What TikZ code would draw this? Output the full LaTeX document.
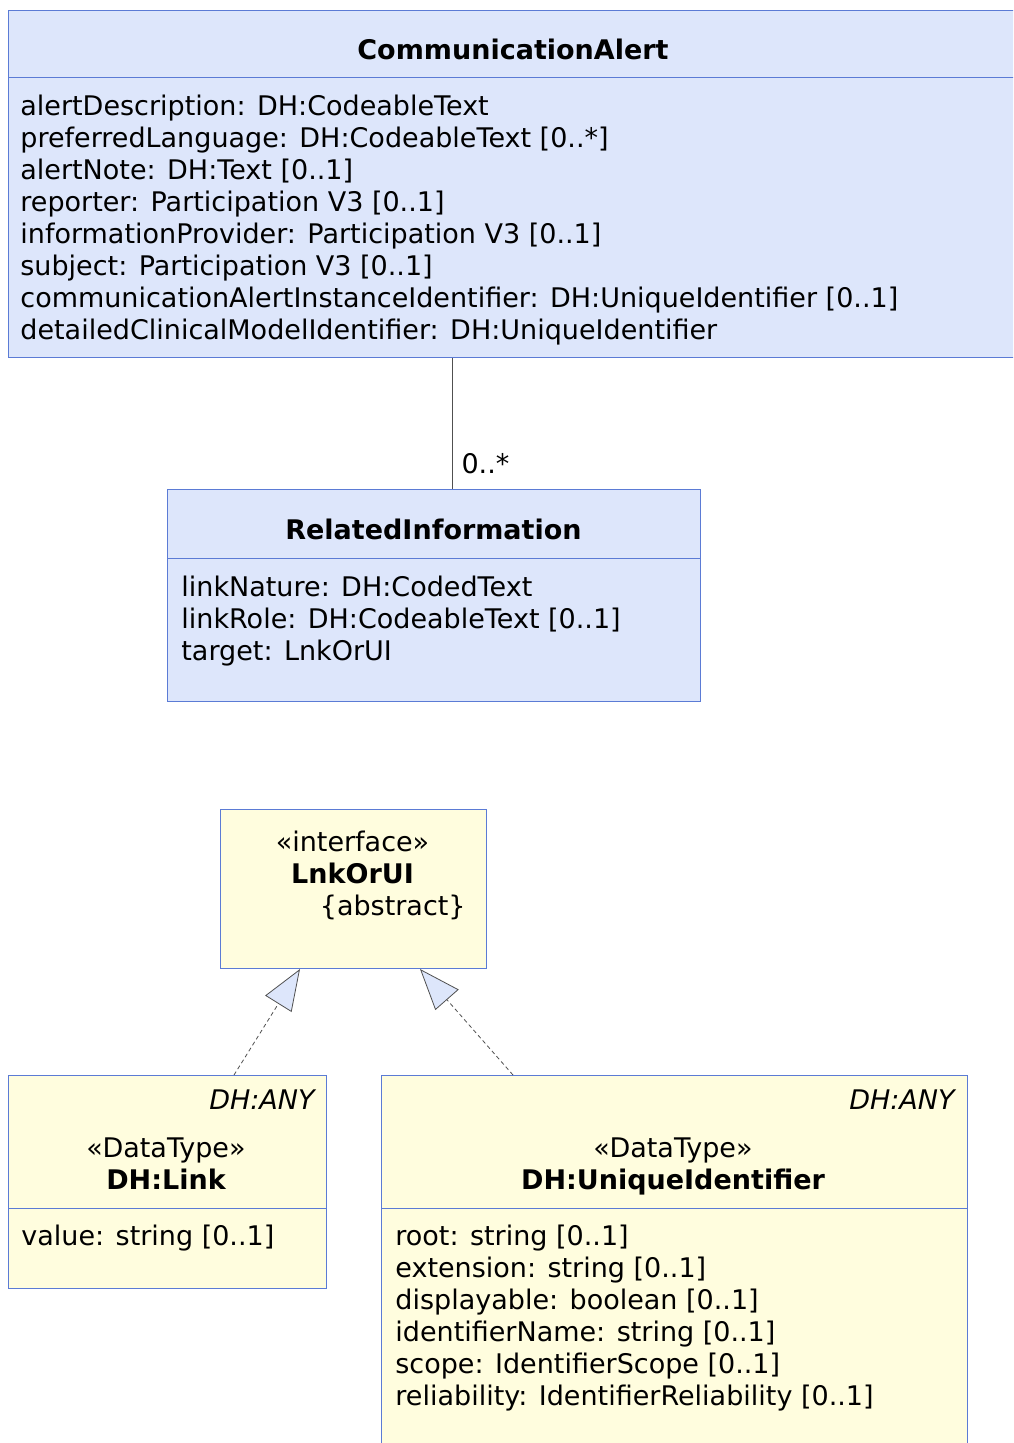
\documentclass[tikz,border=0pt]{standalone}
\usepackage{fontspec}
\setmainfont{DejaVu Sans}
\usetikzlibrary{arrows.meta, positioning, calc}
\definecolor{ClassFill}{HTML}{DDE6FB}
\definecolor{TypeFill}{HTML}{FFFDDE}
\definecolor{BoxLine}{HTML}{5B7BD5}
\definecolor{LinkLine}{HTML}{505050}
\tikzset{
  cbox/.style={draw=BoxLine, line width=0.5pt, fill=ClassFill, anchor=north west, inner sep=0pt},
  ybox/.style={draw=BoxLine, line width=0.5pt, fill=TypeFill, anchor=north west, inner sep=0pt},
  sep/.style={draw=BoxLine, line width=0.5pt},
  txt/.style={inner sep=0pt, font=\fontsize{13.5}{16}\selectfont},
  attr/.style={txt, anchor=base west},
  ttl/.style={txt, anchor=base, font=\fontsize{13.5}{16}\selectfont\bfseries},
  assoc/.style={draw=LinkLine, line width=0.5pt},
  realize/.style={draw=LinkLine, line width=0.4pt, dash pattern=on 2pt off 1.5pt,
    -{Triangle[length=20.5pt, width=15.5pt, fill=ClassFill]}},
}

\begin{document}
\begin{tikzpicture}[x=0.5pt, y=-0.5pt]
  \useasboundingbox (0,0) rectangle (1013,1443);
  \clip (0,0) rectangle (1013,1443);

  % CommunicationAlert
  \node[cbox, minimum width=505pt, minimum height=173.5pt] (alert) at (8,10) {};
  \draw[sep] ($(alert.north west)+(0,68)$) -- ($(alert.north east)+(0,68)$);
  \node[ttl] (alertname) at (513,59.5) {CommunicationAlert};
  \foreach \t [count=\i from 0] in {alertDescription: DH:CodeableText,
      preferredLanguage: DH:CodeableText [0..*], alertNote: DH:Text [0..1],
      reporter: Participation V3 [0..1], informationProvider: Participation V3 [0..1],
      subject: Participation V3 [0..1],
      communicationAlertInstanceIdentifier: DH:UniqueIdentifier [0..1],
      detailedClinicalModelIdentifier: DH:UniqueIdentifier}
    \node[attr] (alert-a\i) at (20,116+32*\i) {\t};

  % RelatedInformation
  \node[cbox, minimum width=266.5pt, minimum height=106pt] (rel) at (167,489) {};
  \draw[sep] ($(rel.north west)+(0,69)$) -- ($(rel.north east)+(0,69)$);
  \node[ttl] (relname) at (433.5,539.5) {RelatedInformation};
  \foreach \t [count=\i from 0] in {linkNature: DH:CodedText,
      linkRole: DH:CodeableText [0..1], target: LnkOrUI}
    \node[attr] (rel-a\i) at (181,596+32*\i) {\t};

  \draw[assoc] ($(alert.south west)+(444,0)$) -- ($(rel.north west)+(285,0)$)
    node[txt, anchor=base west, xshift=4.5pt, yshift=8pt] (mult) {0..*};

  % LnkOrUI
  \node[ybox, minimum width=133pt, minimum height=79.5pt] (lnk) at (220,809) {};
  \node[txt, anchor=base] (lnkst) at (352.5,851.5) {«interface»};
  \node[ttl] (lnkname) at (352.5,883.5) {LnkOrUI};
  \node[txt, anchor=base east] (lnkabs) at (466,915.5) {\{abstract\}};

  % DH:Link
  \node[ybox, minimum width=159pt, minimum height=106.5pt] (link) at (8,1075) {};
  \draw[sep] ($(link.north west)+(0,133)$) -- ($(link.north east)+(0,133)$);
  \node[txt, anchor=base east, font=\fontsize{13.5}{16}\selectfont\itshape] (linkpar) at (315,1109.5) {DH:ANY};
  \node[txt, anchor=base] (linkst) at (166,1157.5) {«DataType»};
  \node[ttl] (linkname) at (166,1189.5) {DH:Link};
  \node[attr] (link-a0) at (21,1245.5) {value: string [0..1]};

  % DH:UniqueIdentifier
  \node[ybox, minimum width=293pt, minimum height=200pt] (uid) at (381,1075) {};
  \draw[sep] ($(uid.north west)+(0,133)$) -- ($(uid.north east)+(0,133)$);
  \node[txt, anchor=base east, font=\fontsize{13.5}{16}\selectfont\itshape] (uidpar) at (955,1109.5) {DH:ANY};
  \node[txt, anchor=base] (uidst) at (673,1157.5) {«DataType»};
  \node[ttl] (uidname) at (673,1189.5) {DH:UniqueIdentifier};
  \foreach \t [count=\i from 0] in {root: string [0..1], extension: string [0..1],
      displayable: boolean [0..1], identifierName: string [0..1],
      scope: IdentifierScope [0..1], reliability: IdentifierReliability [0..1]}
    \node[attr] (uid-a\i) at (395,1245.5+32*\i) {\t};

  % realizations
  \draw[realize] ($(link.north west)+(226,0)$) -- ($(lnk.south west)+(80,0)$);
  \draw[realize] ($(uid.north west)+(132,0)$) -- ($(lnk.south west)+(200,0)$);
\end{tikzpicture}
\end{document}
